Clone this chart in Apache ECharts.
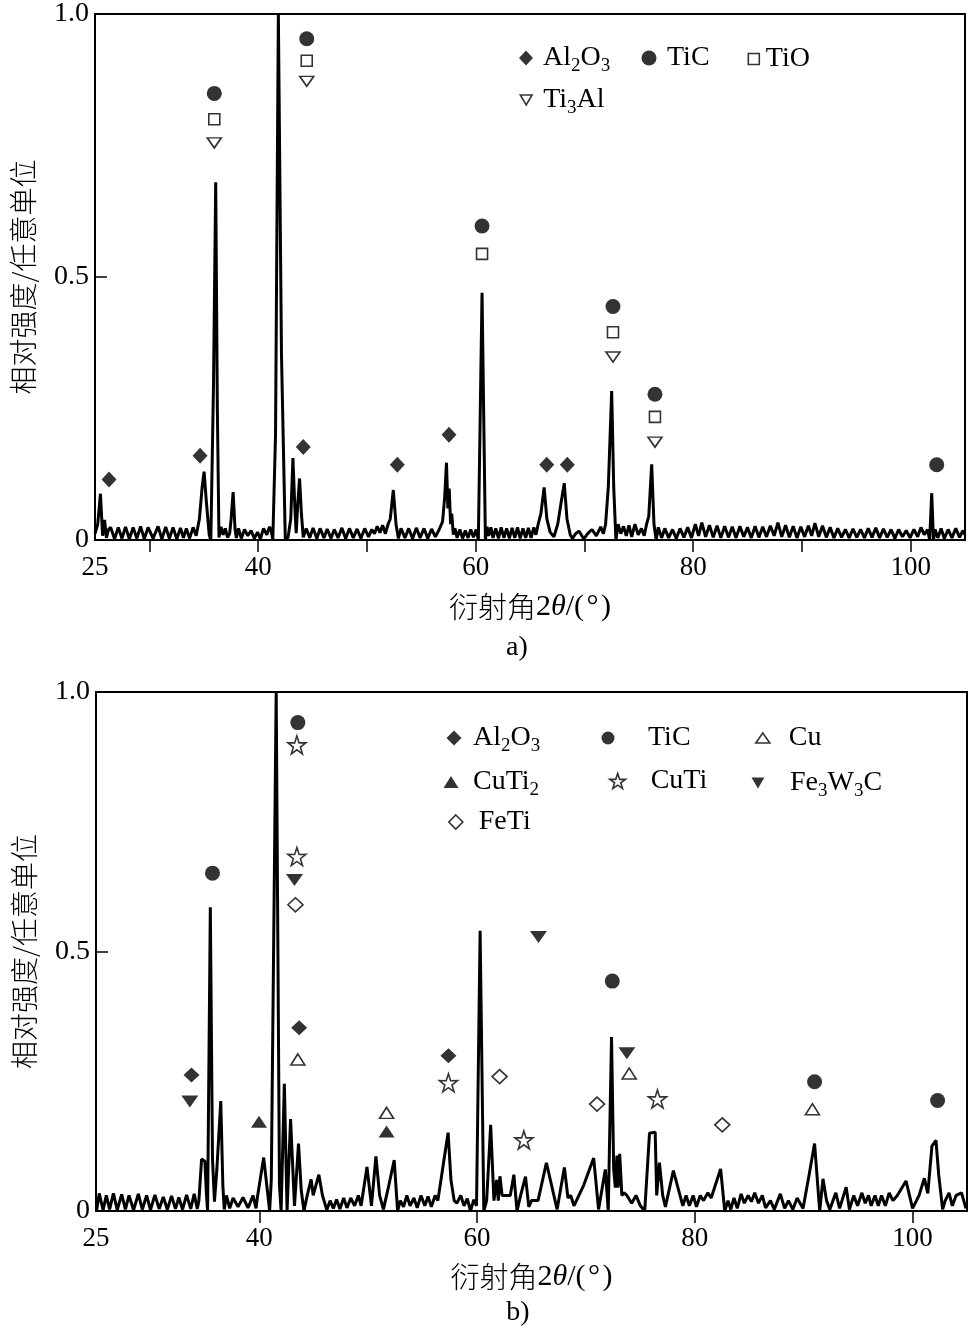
<!DOCTYPE html>
<html>
<head>
<meta charset="utf-8">
<script src="https://cdn.jsdelivr.net/npm/echarts@6/dist/echarts.min.js"></script>
<style>
html,body{margin:0;padding:0;background:#fff;}
#chart{width:970px;height:1329px;}
</style>
</head>
<body>
<div id="chart"></div>
<script>
// ---------- DATA ----------
const xLabelValues = [25, 40, 60, 80, 100];
const topTickValues = [30, 40, 50, 60, 70, 80, 90, 100];
const botTickValues = [40, 60, 80, 100];
const yTickValues = [0, 0.5, 1];
const yTickLabels = ['0', '0.5', '1.0'];

// panel a) diffraction curve [2theta, intensity]
const topCurve = [
[25.0,0.012],[25.25,0.03],[25.5,0.088],[25.7,0.008],[25.88,0.038],[26.05,0.004],[26.25,0.02],
[26.44,0.024],[26.8,0.002],[27.14,0.024],[27.48,0.003],[27.81,0.025],[28.16,0.002],[28.51,0.024],[28.85,0.003],
[29.19,0.026],[29.53,0.002],[29.88,0.024],[30.34,0.003],[30.8,0.026],[31.15,0.002],[31.5,0.025],[31.84,0.003],
[32.18,0.024],[32.52,0.002],[32.86,0.023],[33.13,0.004],[33.4,0.022],[33.7,0.003],[34.02,0.024],[34.3,0.008],
[34.6,0.04],[34.85,0.1],[35.03,0.13],[35.25,0.07],[35.5,0.01],[35.65,0.0],[35.9,0.3],[36.1,0.68],[36.25,0.25],
[36.4,0.005],[36.58,0.025],[36.78,0.01],[36.98,0.022],[37.18,0.005],[37.38,0.012],[37.52,0.04],[37.7,0.091],
[37.88,0.02],[38.0,0.004],[38.2,0.022],[38.45,0.003],[38.75,0.02],[39.05,0.008],[39.35,0.018],[39.65,0.003],
[39.95,0.015],[40.2,0.002],[40.5,0.022],[40.8,0.01],[41.05,0.025],[41.2,0.018],[41.35,0.0],[41.6,0.2],
[41.86,1.0],[42.15,0.35],[42.5,0.0],[42.75,0.005],[43.0,0.04],[43.2,0.156],[43.38,0.06],[43.5,0.013],
[43.65,0.07],[43.81,0.117],[43.98,0.05],[44.15,0.005],[44.42,0.022],[44.75,0.004],[45.05,0.023],[45.4,0.003],
[45.7,0.022],[46.05,0.004],[46.35,0.021],[46.7,0.003],[47.0,0.02],[47.35,0.004],[47.7,0.023],[48.05,0.003],
[48.4,0.022],[48.75,0.004],[49.1,0.021],[49.45,0.003],[49.8,0.022],[50.15,0.006],[50.45,0.02],[50.7,0.012],
[50.95,0.026],[51.2,0.014],[51.45,0.028],[51.7,0.012],[51.95,0.03],[52.15,0.04],[52.43,0.095],[52.68,0.03],
[52.9,0.003],[53.14,0.022],[53.5,0.004],[53.85,0.022],[54.2,0.003],[54.55,0.023],[54.9,0.004],[55.25,0.022],
[55.6,0.003],[55.95,0.021],[56.3,0.006],[56.65,0.02],[56.96,0.035],[57.15,0.08],[57.32,0.147],[57.45,0.06],
[57.57,0.098],[57.7,0.03],[57.8,0.05],[57.95,0.01],[58.1,0.022],[58.3,0.004],[58.55,0.02],[58.8,0.003],
[59.05,0.018],[59.3,0.004],[59.55,0.02],[59.8,0.005],[60.05,0.02],[60.25,0.0],[60.59,0.47],[60.9,0.0],
[61.05,0.025],[61.2,0.008],[61.4,0.024],[61.6,0.004],[61.85,0.022],[62.1,0.003],[62.35,0.024],[62.6,0.004],
[62.85,0.022],[63.1,0.003],[63.35,0.023],[63.6,0.004],[63.85,0.024],[64.1,0.003],[64.35,0.022],[64.6,0.004],
[64.85,0.023],[65.1,0.004],[65.35,0.024],[65.55,0.01],[65.75,0.03],[66.0,0.05],[66.3,0.1],[66.55,0.04],
[66.85,0.015],[67.2,0.006],[67.55,0.03],[67.85,0.07],[68.15,0.108],[68.4,0.04],[68.7,0.01],[68.9,0.003],
[69.2,0.012],[69.5,0.017],[69.95,0.002],[70.3,0.012],[70.7,0.02],[71.1,0.008],[71.5,0.025],[71.75,0.012],
[71.95,0.03],[72.2,0.1],[72.51,0.283],[72.7,0.1],[72.9,0.0],[73.1,0.03],[73.35,0.012],[73.6,0.026],
[73.85,0.008],[74.1,0.028],[74.35,0.006],[74.65,0.03],[74.95,0.01],[75.25,0.022],[75.5,0.008],[75.72,0.03],
[75.92,0.045],[76.19,0.144],[76.4,0.03],[76.6,0.0],[76.8,0.024],[77.1,0.004],[77.4,0.022],[77.75,0.004],
[78.1,0.02],[78.45,0.003],[78.8,0.022],[79.15,0.005],[79.5,0.024],[79.85,0.004],[80.2,0.03],[80.5,0.008],
[80.8,0.033],[81.15,0.006],[81.5,0.028],[81.85,0.005],[82.2,0.027],[82.55,0.004],[82.9,0.026],[83.25,0.005],
[83.6,0.025],[83.95,0.004],[84.3,0.026],[84.65,0.006],[85.0,0.024],[85.35,0.004],[85.7,0.026],[86.05,0.005],
[86.4,0.025],[86.75,0.006],[87.1,0.027],[87.45,0.008],[87.8,0.033],[88.15,0.006],[88.5,0.028],[88.85,0.005],
[89.2,0.026],[89.55,0.004],[89.9,0.025],[90.25,0.006],[90.6,0.027],[90.9,0.008],[91.2,0.032],[91.55,0.006],
[91.9,0.027],[92.25,0.005],[92.6,0.024],[92.95,0.004],[93.3,0.022],[93.65,0.005],[94.0,0.02],[94.35,0.004],
[94.7,0.021],[95.05,0.005],[95.4,0.02],[95.75,0.004],[96.1,0.022],[96.45,0.005],[96.8,0.023],[97.15,0.004],
[97.5,0.021],[97.85,0.005],[98.2,0.02],[98.55,0.003],[98.9,0.02],[99.25,0.006],[99.6,0.018],[99.95,0.004],
[100.3,0.02],[100.65,0.006],[100.95,0.024],[101.25,0.01],[101.55,0.02],[101.75,0.0],[101.94,0.089],[102.1,0.0],
[102.25,0.02],[102.5,0.004],[102.8,0.022],[103.1,0.003],[103.45,0.02],[103.8,0.004],[104.15,0.022],[104.5,0.005],
[104.8,0.018],[105.0,0.01]
];

// panel a) phase markers [2theta, height]
const topAl2O3 = [[26.29,0.115],[34.66,0.160],[44.15,0.177],[52.80,0.143],[57.55,0.200],[66.54,0.143],[68.43,0.143]];
const topTiC   = [[35.97,0.849],[44.47,0.953],[60.59,0.597],[72.63,0.444],[76.49,0.277],[102.40,0.143]];
const topTiO   = [[35.97,0.800],[44.47,0.911],[60.59,0.544],[72.63,0.395],[76.49,0.234]];
const topTi3Al = [[35.97,0.755],[44.47,0.872],[72.63,0.348],[76.49,0.186]];

// panel b) diffraction curve
const botCurve = [
[25.05,0.0],[25.3,0.034],[25.65,0.002],[25.95,0.03],[26.25,0.003],[26.6,0.034],[26.95,0.002],[27.36,0.032],
[27.7,0.003],[28.03,0.03],[28.45,0.002],[28.89,0.033],[29.25,0.003],[29.65,0.03],[30.0,0.002],[30.41,0.031],
[30.8,0.004],[31.18,0.027],[31.55,0.003],[31.94,0.029],[32.3,0.004],[32.61,0.026],[32.95,0.003],[33.32,0.031],
[33.7,0.004],[34.02,0.033],[34.3,0.004],[34.45,0.02],[34.7,0.1],[35.0,0.096],[35.15,0.03],[35.25,0.0],
[35.5,0.585],[35.7,0.1],[35.88,0.018],[36.1,0.08],[36.46,0.212],[36.65,0.05],[36.78,0.003],[36.98,0.03],
[37.28,0.005],[37.59,0.025],[38.05,0.008],[38.5,0.026],[38.97,0.006],[39.42,0.03],[39.7,0.005],[39.85,0.03],
[40.4,0.103],[40.95,0.0],[41.1,0.06],[41.55,1.0],[41.85,0.05],[42.0,0.0],[42.3,0.245],[42.55,0.0],
[42.87,0.177],[43.23,0.01],[43.6,0.13],[43.85,0.04],[44.1,0.0],[44.4,0.03],[44.76,0.061],[44.95,0.03],
[45.47,0.07],[45.8,0.03],[46.2,0.002],[46.5,0.02],[46.8,0.005],[47.1,0.022],[47.4,0.004],[47.75,0.025],
[48.05,0.006],[48.4,0.025],[48.75,0.01],[49.1,0.03],[49.35,0.01],[49.89,0.085],[50.3,0.01],[50.71,0.105],
[51.05,0.03],[51.4,0.003],[51.9,0.05],[52.39,0.098],[52.7,0.0],[52.95,0.02],[53.25,0.008],[53.55,0.03],
[53.85,0.01],[54.2,0.025],[54.5,0.006],[54.85,0.03],[55.2,0.01],[55.5,0.028],[55.8,0.008],[56.15,0.03],
[56.4,0.02],[56.9,0.09],[57.34,0.151],[57.6,0.06],[57.9,0.02],[58.15,0.015],[58.5,0.03],[58.8,0.01],
[59.1,0.024],[59.4,0.0],[59.7,0.022],[59.95,0.01],[60.28,0.54],[60.62,0.0],[60.88,0.02],[61.25,0.166],
[61.55,0.02],[61.8,0.06],[61.95,0.02],[62.1,0.067],[62.3,0.03],[62.7,0.03],[63.05,0.03],[63.38,0.07],
[63.67,0.0],[64.0,0.03],[64.45,0.066],[64.75,0.008],[65.0,0.02],[65.3,0.02],[65.6,0.02],[66.37,0.093],
[67.35,0.003],[68.02,0.084],[68.35,0.025],[68.6,0.03],[68.9,0.01],[69.8,0.05],[70.71,0.102],[71.16,0.003],
[71.78,0.08],[72.05,0.0],[72.35,0.335],[72.55,0.08],[72.7,0.045],[72.85,0.107],[72.95,0.045],[73.1,0.11],
[73.3,0.03],[73.5,0.035],[73.76,0.03],[74.2,0.015],[74.6,0.03],[75.0,0.01],[75.4,0.0],[75.84,0.15],
[76.36,0.152],[76.5,0.03],[76.75,0.093],[77.05,0.03],[77.3,0.008],[78.03,0.078],[78.9,0.01],[79.2,0.03],
[79.5,0.01],[79.85,0.03],[80.15,0.008],[80.5,0.03],[80.8,0.02],[81.2,0.035],[81.5,0.025],[82.37,0.081],
[82.75,0.0],[83.05,0.02],[83.3,0.003],[83.6,0.025],[83.9,0.005],[84.25,0.033],[84.55,0.015],[84.9,0.03],
[85.2,0.018],[85.5,0.035],[85.85,0.015],[86.2,0.03],[86.5,0.006],[86.95,0.02],[87.3,0.003],[87.85,0.033],
[88.25,0.005],[88.6,0.02],[89.0,0.003],[89.4,0.025],[89.94,0.005],[90.5,0.07],[91.0,0.13],[91.47,0.0],
[91.77,0.062],[92.1,0.02],[92.4,0.003],[92.95,0.035],[93.3,0.005],[93.9,0.046],[94.2,0.003],[94.6,0.03],
[94.95,0.01],[95.35,0.035],[95.65,0.015],[95.95,0.03],[96.2,0.01],[96.55,0.03],[96.85,0.01],[97.15,0.03],
[97.5,0.01],[97.85,0.035],[98.2,0.02],[98.6,0.03],[99.4,0.058],[100.0,0.005],[100.6,0.03],[101.08,0.063],
[101.4,0.034],[101.78,0.125],[102.15,0.136],[102.4,0.07],[102.76,0.003],[103.0,0.02],[103.35,0.035],[103.65,0.01],
[104.0,0.03],[104.5,0.035],[104.9,0.005]
];

// panel b) phase markers
const botAl2O3  = [[33.77,0.262],[43.66,0.353],[57.37,0.299]];
const botTiC    = [[35.70,0.651],[43.54,0.941],[72.42,0.443],[91.00,0.249],[102.30,0.213]];
const botCu     = [[43.54,0.292],[51.69,0.189],[73.97,0.265],[90.80,0.196]];
const botCuTi2  = [[39.97,0.172],[51.69,0.153]];
const botCuTi   = [[43.45,0.898],[43.45,0.683],[57.37,0.247],[64.30,0.137],[76.57,0.216]];
const botFe3W3C = [[33.62,0.211],[43.23,0.638],[65.64,0.528],[73.76,0.304]];
const botFeTi   = [[43.32,0.590],[62.07,0.259],[71.02,0.206],[82.52,0.166]];

// ---------- STYLE ----------
const SERIF = "'Liberation Serif','Times New Roman',serif";
const CJK = "'Noto Sans CJK SC','Noto Sans CJK JP',sans-serif";
const SYM = {
  diamond: 'diamond',
  circle: 'circle',
  square: 'rect',
  triUp: 'triangle',
  triDown: 'path://M0,0L10,0L5,8.5Z',
  star: 'path://M50,0L61.8,35.1L97.6,34.5L68.8,56.4L79.4,90.5L50,70L20.6,90.5L31.2,56.4L2.4,34.5L38.2,35.1Z'
};
function fill(filled) {
  return filled ? {color:'#000', borderColor:'#000', borderWidth:0}
                : {color:'#fff', borderColor:'#000', borderWidth:1.6};
}
function richName(n) {
  return n.replace(/(\D+)|(\d+)/g, (m, a, d) => a ? '{t|' + a + '}' : '{s|' + d + '}');
}
function sc(name, data, gi, symbol, size, filled) {
  return {type:'scatter', name, data, xAxisIndex:gi, yAxisIndex:gi, symbol, symbolSize:size,
    itemStyle: fill(filled), z:5, silent:true, animation:false};
}
function lg(name, cx, cy, w, h, tx, icon, filled) {
  const gap = Math.max(0, tx - (cx + w / 2 + 5));
  return {
    show:true, data:[name], left: cx - w / 2, top: cy - 18, padding:0,
    itemWidth:w, itemHeight:h, icon, itemStyle: fill(filled), selectedMode:false,
    formatter: n => '{g| }' + richName(n),
    textStyle: {
      color:'#000',
      rich: {
        g: {width: gap, height: 36, lineHeight: 36, fontSize: 10},
        t: {fontFamily: SERIF, fontSize: 28, lineHeight: 36, color:'#000'},
        s: {fontFamily: SERIF, fontSize: 19, lineHeight: 19, padding:[17,0,0,0], color:'#000'}
      }
    }
  };
}
function xAx(gi, ticks, gap) {
  return {
    type:'value', gridIndex:gi, min:25, max:105,
    axisLine:{show:true, onZero:false, lineStyle:{color:'#000', width:2}},
    axisTick:{show:true, inside:false, length:12, customValues:ticks, lineStyle:{color:'#000', width:1.5}},
    axisLabel:{show:true, customValues:xLabelValues, showMinLabel:true, showMaxLabel:true,
      fontFamily:SERIF, fontSize:27, color:'#000', margin:14},
    splitLine:{show:false},
    name:'{c|衍射角}{n|2}{i|θ}{n|/(\u200A°\u200A)}',
    nameLocation:'middle', nameGap:gap,
    nameTextStyle:{
      rich:{
        c:{fontFamily:CJK, fontSize:29, fontWeight:300, color:'#000', lineHeight:34},
        n:{fontFamily:SERIF, fontSize:30, color:'#000', lineHeight:34},
        i:{fontFamily:SERIF, fontSize:30, fontStyle:'italic', color:'#000', lineHeight:34}
      }
    }
  };
}
function yAx(gi) {
  return {
    type:'value', gridIndex:gi, min:0, max:1,
    axisLine:{show:true, onZero:false, lineStyle:{color:'#000', width:2}},
    axisTick:{show:true, inside:true, length:12, customValues:yTickValues, lineStyle:{color:'#000', width:1.5}},
    axisLabel:{show:true, customValues:yTickValues, showMinLabel:true, showMaxLabel:true,
      fontFamily:SERIF, fontSize:28, color:'#000', margin:6,
      formatter: v => yTickLabels[yTickValues.indexOf(v)] ?? String(v)},
    splitLine:{show:false},
    name:'相对强度/任意单位', nameLocation:'middle', nameGap:58, nameRotate:90,
    nameTextStyle:{fontFamily:CJK, fontSize:28, fontWeight:300, color:'#000'}
  };
}

const chart = echarts.init(document.getElementById('chart'), null, {renderer:'canvas'});
chart.setOption({
  animation:false,
  backgroundColor:'#fff',
  grid:[
    {left:95, top:9, width:870, height:531, show:true, borderColor:'#000', borderWidth:2, backgroundColor:'transparent'},
    {left:96, top:692, width:871, height:519, show:true, borderColor:'#000', borderWidth:2, backgroundColor:'transparent'}
  ],
  xAxis:[xAx(0, topTickValues, 50), xAx(1, botTickValues, 49)],
  yAxis:[yAx(0), yAx(1)],
  legend:[
    lg('Al2O3', 526, 58, 14, 15, 543, SYM.diamond, true),
    lg('TiC', 649, 58, 15, 15, 667, SYM.circle, true),
    lg('TiO', 753, 59, 11, 11, 765, SYM.square, false),
    lg('Ti3Al', 526, 100, 13, 10, 543, SYM.triDown, false),
    lg('Al2O3', 454, 738, 15, 15, 473, SYM.diamond, true),
    lg('TiC', 608, 738, 13, 13, 648, SYM.circle, true),
    lg('Cu', 762, 738, 14, 10, 788, SYM.triUp, false),
    lg('CuTi2', 451, 782, 15, 12, 473, SYM.triUp, true),
    lg('CuTi', 617, 781, 16, 15, 650, SYM.star, false),
    lg('Fe3W3C', 758, 783, 13, 11, 790, SYM.triDown, true),
    lg('FeTi', 455, 822, 14, 14, 478, SYM.diamond, false)
  ],
  graphic:[
    {type:'text', x:517, y:648, style:{text:'a)', font:"28px 'Liberation Serif'", fill:'#000', align:'center', verticalAlign:'middle'}},
    {type:'text', x:518, y:1313, style:{text:'b)', font:"28px 'Liberation Serif'", fill:'#000', align:'center', verticalAlign:'middle'}}
  ],
  series:[
    {type:'line', name:'curveA', data:topCurve, xAxisIndex:0, yAxisIndex:0, symbol:'none', showSymbol:false,
      lineStyle:{color:'#000', width:3}, silent:true, z:3},
    {type:'line', name:'curveB', data:botCurve, xAxisIndex:1, yAxisIndex:1, symbol:'none', showSymbol:false,
      lineStyle:{color:'#000', width:3}, silent:true, z:3},
    sc('Al2O3', topAl2O3, 0, SYM.diamond, [15,16], true),
    sc('TiC', topTiC, 0, SYM.circle, 15, true),
    sc('TiO', topTiO, 0, SYM.square, 11, false),
    sc('Ti3Al', topTi3Al, 0, SYM.triDown, [14,10], false),
    sc('Al2O3', botAl2O3, 1, SYM.diamond, [16,15], true),
    sc('TiC', botTiC, 1, SYM.circle, 15, true),
    sc('Cu', botCu, 1, SYM.triUp, [14,11], false),
    sc('CuTi2', botCuTi2, 1, SYM.triUp, [16,12], true),
    sc('CuTi', botCuTi, 1, SYM.star, 18, false),
    sc('Fe3W3C', botFe3W3C, 1, SYM.triDown, [17,12], true),
    sc('FeTi', botFeTi, 1, SYM.diamond, [15,14], false)
  ]
});
</script>
</body>
</html>
